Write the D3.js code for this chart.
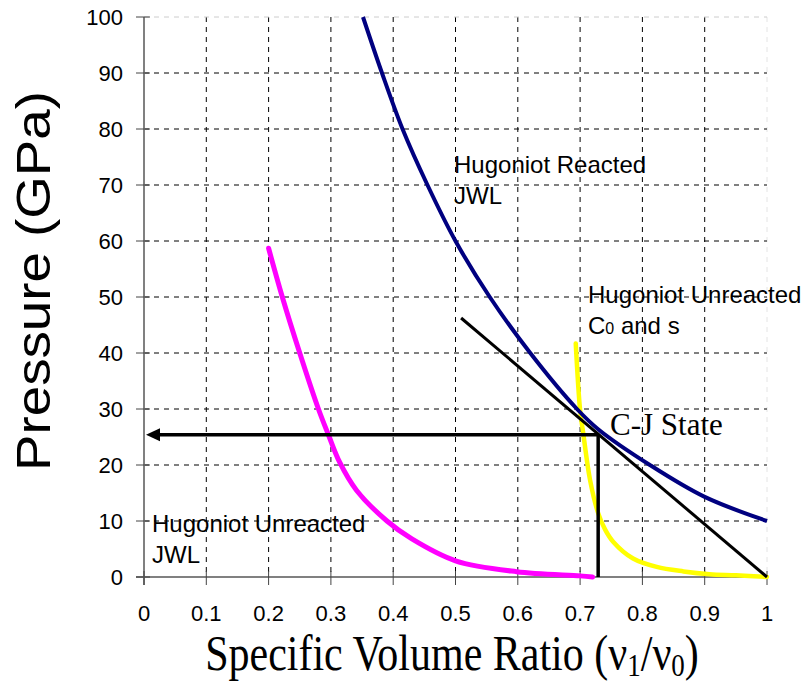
<!DOCTYPE html>
<html>
<head>
<meta charset="utf-8">
<script src="https://cdn.jsdelivr.net/npm/d3@7"></script>
<style>
  html, body { margin: 0; padding: 0; background: #fff; }
  svg { display: block; }
</style>
</head>
<body>
<svg id="chart" width="804" height="684"></svg>
<script>
// ---- data ----
const xTicks = [0, 0.1, 0.2, 0.3, 0.4, 0.5, 0.6, 0.7, 0.8, 0.9, 1];
const yTicks = [0, 10, 20, 30, 40, 50, 60, 70, 80, 90, 100];
const xTickLabels = ["0", "0.1", "0.2", "0.3", "0.4", "0.5", "0.6", "0.7", "0.8", "0.9", "1"];

// Hugoniot Reacted JWL (navy)
const reactedX = [0.3515, 0.382, 0.415, 0.455, 0.5, 0.555, 0.62, 0.695, 0.73, 0.812, 0.9, 1.0];
const reactedP = [100, 90, 80, 70, 60, 50, 40, 30, 26.3, 20, 14.3, 10];

// Hugoniot Unreacted JWL (magenta)
const unreactedJwlX = [0.2, 0.222, 0.25, 0.28, 0.296, 0.314, 0.341, 0.39, 0.43, 0.5, 0.598, 0.70, 0.72];
const unreactedJwlP = [58.7, 50, 40, 30, 25.4, 20.5, 15.5, 10, 6.8, 2.9, 0.95, 0.2, 0];

// Hugoniot Unreacted C0 and s (yellow)
const unreactedUsX = [0.693, 0.70, 0.705, 0.716, 0.729, 0.74, 0.753, 0.785, 0.823, 0.866, 0.908, 0.95, 1.0];
const unreactedUsP = [41.7, 29.8, 25.7, 17.3, 11.4, 8.5, 6.3, 3.3, 1.8, 1.0, 0.5, 0.3, 0];

// Rayleigh line (black)
const rayleighX = [0.509, 1.0];
const rayleighP = [46.25, 0];

// C-J state
const cjX = 0.729;
const cjP = 25.4;

// ---- drawing ----
const svg = d3.select("#chart");
const x = d3.scaleLinear().domain([0, 1]).range([144, 767]);
const y = d3.scaleLinear().domain([0, 100]).range([577, 17]);

const sans = "Arial, 'Liberation Sans', sans-serif";
const serif = "'Times New Roman', 'Liberation Serif', serif";

// grid
const g = svg.append("g");
g.selectAll(".vg").data(xTicks.filter(d => d > 0)).enter().append("line")
  .attr("x1", d => x(d)).attr("x2", d => x(d))
  .attr("y1", y(100)).attr("y2", y(0))
  .attr("stroke", d => d === 1 ? "#e4e4e4" : "#000")
  .attr("stroke-width", 1)
  .attr("stroke-dasharray", "5,5");
g.selectAll(".hg").data(yTicks.filter(d => d > 0)).enter().append("line")
  .attr("x1", x(0)).attr("x2", x(1))
  .attr("y1", d => y(d)).attr("y2", d => y(d))
  .attr("stroke", d => d === 100 ? "#cccccc" : "#000")
  .attr("stroke-width", 1)
  .attr("stroke-dasharray", "5,5");

// axes
g.append("line").attr("x1", x(0)).attr("x2", x(0)).attr("y1", y(100)).attr("y2", y(0) + 8)
  .attr("stroke", "#808080").attr("stroke-width", 2);
g.append("line").attr("x1", x(0) - 8).attr("x2", x(1)).attr("y1", y(0)).attr("y2", y(0))
  .attr("stroke", "#808080").attr("stroke-width", 2);
g.selectAll(".yt").data(yTicks).enter().append("line")
  .attr("x1", x(0) - 8).attr("x2", x(0) + 6)
  .attr("y1", d => y(d)).attr("y2", d => y(d))
  .attr("stroke", "#444").attr("stroke-width", 1);
g.selectAll(".xt").data(xTicks).enter().append("line")
  .attr("x1", d => x(d)).attr("x2", d => x(d))
  .attr("y1", y(0) - 6).attr("y2", y(0) + 8)
  .attr("stroke", "#444").attr("stroke-width", 1);

// tick labels
g.selectAll(".yl").data(yTicks).enter().append("text")
  .attr("x", 123).attr("y", d => y(d) + 8)
  .attr("text-anchor", "end")
  .attr("font-family", sans).attr("font-size", 22)
  .text(d => d);
g.selectAll(".xl").data(xTicks).enter().append("text")
  .attr("x", d => x(d)).attr("y", 621)
  .attr("text-anchor", "middle")
  .attr("font-family", sans).attr("font-size", 22)
  .text((d, i) => xTickLabels[i]);

// curves
const line = d3.line().x(d => x(d[0])).y(d => y(d[1])).curve(d3.curveCatmullRom.alpha(0.5));
const zip = (a, b) => a.map((v, i) => [v, b[i]]);

svg.append("path").datum(zip(unreactedJwlX, unreactedJwlP))
  .attr("d", line).attr("fill", "none").attr("stroke", "#ff00ff").attr("stroke-width", 5)
  .attr("stroke-linecap", "round");
svg.append("path").datum(zip(unreactedUsX, unreactedUsP))
  .attr("d", line).attr("fill", "none").attr("stroke", "#ffff00").attr("stroke-width", 4.5)
  .attr("stroke-linecap", "round");
svg.append("path").datum(zip(reactedX, reactedP))
  .attr("d", line).attr("fill", "none").attr("stroke", "#000080").attr("stroke-width", 4);
svg.append("path").datum(zip(rayleighX, rayleighP))
  .attr("d", d3.line().x(d => x(d[0])).y(d => y(d[1])))
  .attr("fill", "none").attr("stroke", "#000").attr("stroke-width", 3);

// C-J vertical and arrow
svg.append("line").attr("x1", x(cjX)).attr("x2", x(cjX)).attr("y1", y(cjP)).attr("y2", y(0))
  .attr("stroke", "#000").attr("stroke-width", 3.5);
svg.append("line").attr("x1", x(cjX)).attr("x2", x(0) + 12).attr("y1", y(cjP)).attr("y2", y(cjP))
  .attr("stroke", "#000").attr("stroke-width", 3.5);
const ax = x(0) + 2, ay = y(cjP);
svg.append("path")
  .attr("d", `M${ax},${ay} L${ax + 14},${ay - 6.5} L${ax + 14},${ay + 6.5} Z`)
  .attr("fill", "#000");

// curve labels
function label(xp, yp, lines) {
  const t = svg.append("text").attr("font-family", sans).attr("font-size", 24).attr("fill", "#000");
  lines.forEach((l, i) => {
    const ts = t.append("tspan").attr("x", xp).attr("y", yp + i * 31);
    if (typeof l === "string") ts.text(l);
    else l.forEach(p => { const s = t.append("tspan").text(p.t); if (p.fs) s.attr("font-size", p.fs); ts.node().appendChild(s.node()); });
  });
}
label(454, 173, ["Hugoniot Reacted", "JWL"]);
label(588, 303, ["Hugoniot Unreacted", [{t: "C"}, {t: "0", fs: 16}, {t: " and s"}]]);
label(152, 532, ["Hugoniot Unreacted", "JWL"]);

svg.append("text").attr("x", 610).attr("y", 435)
  .attr("font-family", serif).attr("font-size", 31).text("C-J State");

// axis titles
svg.append("text")
  .attr("transform", "translate(50,281) rotate(-90) scale(1.14,1)")
  .attr("text-anchor", "middle")
  .attr("font-family", sans).attr("font-size", 48)
  .text("Pressure (GPa)");

const xt = svg.append("text")
  .attr("transform", "translate(452,670) scale(1,1.2)")
  .attr("text-anchor", "middle")
  .attr("font-family", serif).attr("font-size", 42);
xt.append("tspan").text("Specific Volume Ratio (ν");
xt.append("tspan").attr("font-size", 27).attr("dy", 5).text("1");
xt.append("tspan").attr("dy", -5).text("/ν");
xt.append("tspan").attr("font-size", 27).attr("dy", 5).text("0");
xt.append("tspan").attr("dy", -5).text(")");
</script>
</body>
</html>
